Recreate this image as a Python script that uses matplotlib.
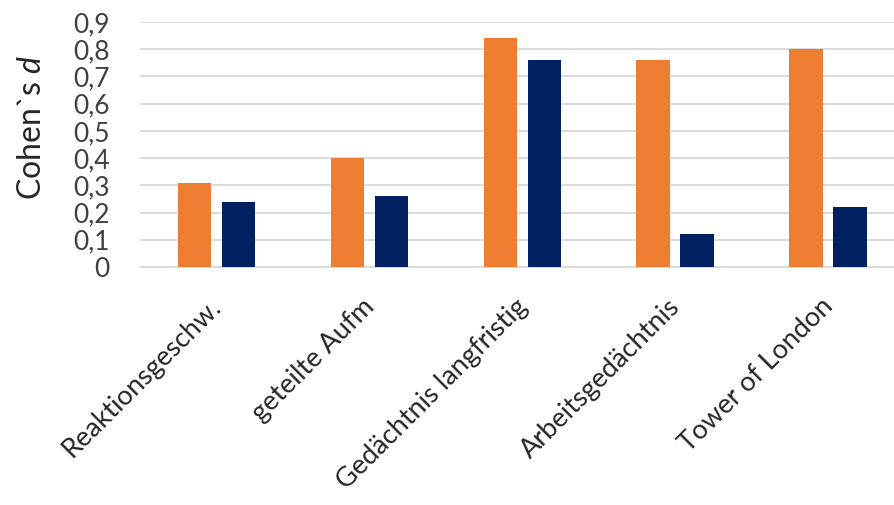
import matplotlib
matplotlib.use("Agg")
import matplotlib.pyplot as plt
from matplotlib.transforms import ScaledTranslation
import numpy as np

# effect sizes per test domain
categories = ["Reaktionsgeschw.", "geteilte Aufm", "Gedächtnis langfristig",
              "Arbeitsgedächtnis", "Tower of London"]
group_a = [0.31, 0.40, 0.84, 0.76, 0.80]
group_b = [0.24, 0.26, 0.76, 0.12, 0.22]
yticks = [0, 0.1, 0.2, 0.3, 0.4, 0.5, 0.6, 0.7, 0.8, 0.9]

plt.rcParams['font.family'] = ['Lato', 'DejaVu Sans']
plt.rcParams['mathtext.fontset'] = 'custom'
plt.rcParams['mathtext.it'] = 'Lato:italic'
plt.rcParams['mathtext.rm'] = 'Lato'

fig = plt.figure(figsize=(8.94, 5.05), dpi=100)
ax = fig.add_axes([140 / 894, 1 - 267 / 505, 754 / 894, 245 / 505])

x = np.arange(len(categories))
w = 0.22
ax.bar(x - 0.144, group_a, w, color="#ED7D31", zorder=3)
ax.bar(x + 0.144, group_b, w, color="#002060", zorder=3)

ax.set_ylim(0, 0.9)
ax.set_xlim(-0.5, 4.43)
ax.set_yticks(yticks)
ax.set_yticklabels([("%.1f" % v).replace(".", ",") if v else "0" for v in yticks],
                   fontsize=19, color="#404040")
ax.yaxis.grid(True, color="#d9d9d9", linewidth=1.3, zorder=0)
ax.tick_params(axis="both", length=0)
ax.tick_params(axis="y", pad=22)

ax.set_xticks(x)
ax.set_xticklabels(categories, rotation=45, ha="right", va="top",
                   rotation_mode="anchor", fontsize=19.5, color="#262626")
shift = ScaledTranslation(-0.08, -0.22, fig.dpi_scale_trans)
for lab in ax.get_xticklabels():
    lab.set_transform(lab.get_transform() + shift)

for s in ["top", "right", "left"]:
    ax.spines[s].set_visible(False)
ax.spines["bottom"].set_color("#d9d9d9")
ax.spines["bottom"].set_linewidth(1.3)

ax.set_ylabel("Cohen`s $d$", fontsize=23, color="#262626")
ax.yaxis.set_label_coords(-0.124, 0.57)

fig.savefig("out.png", dpi=100)
